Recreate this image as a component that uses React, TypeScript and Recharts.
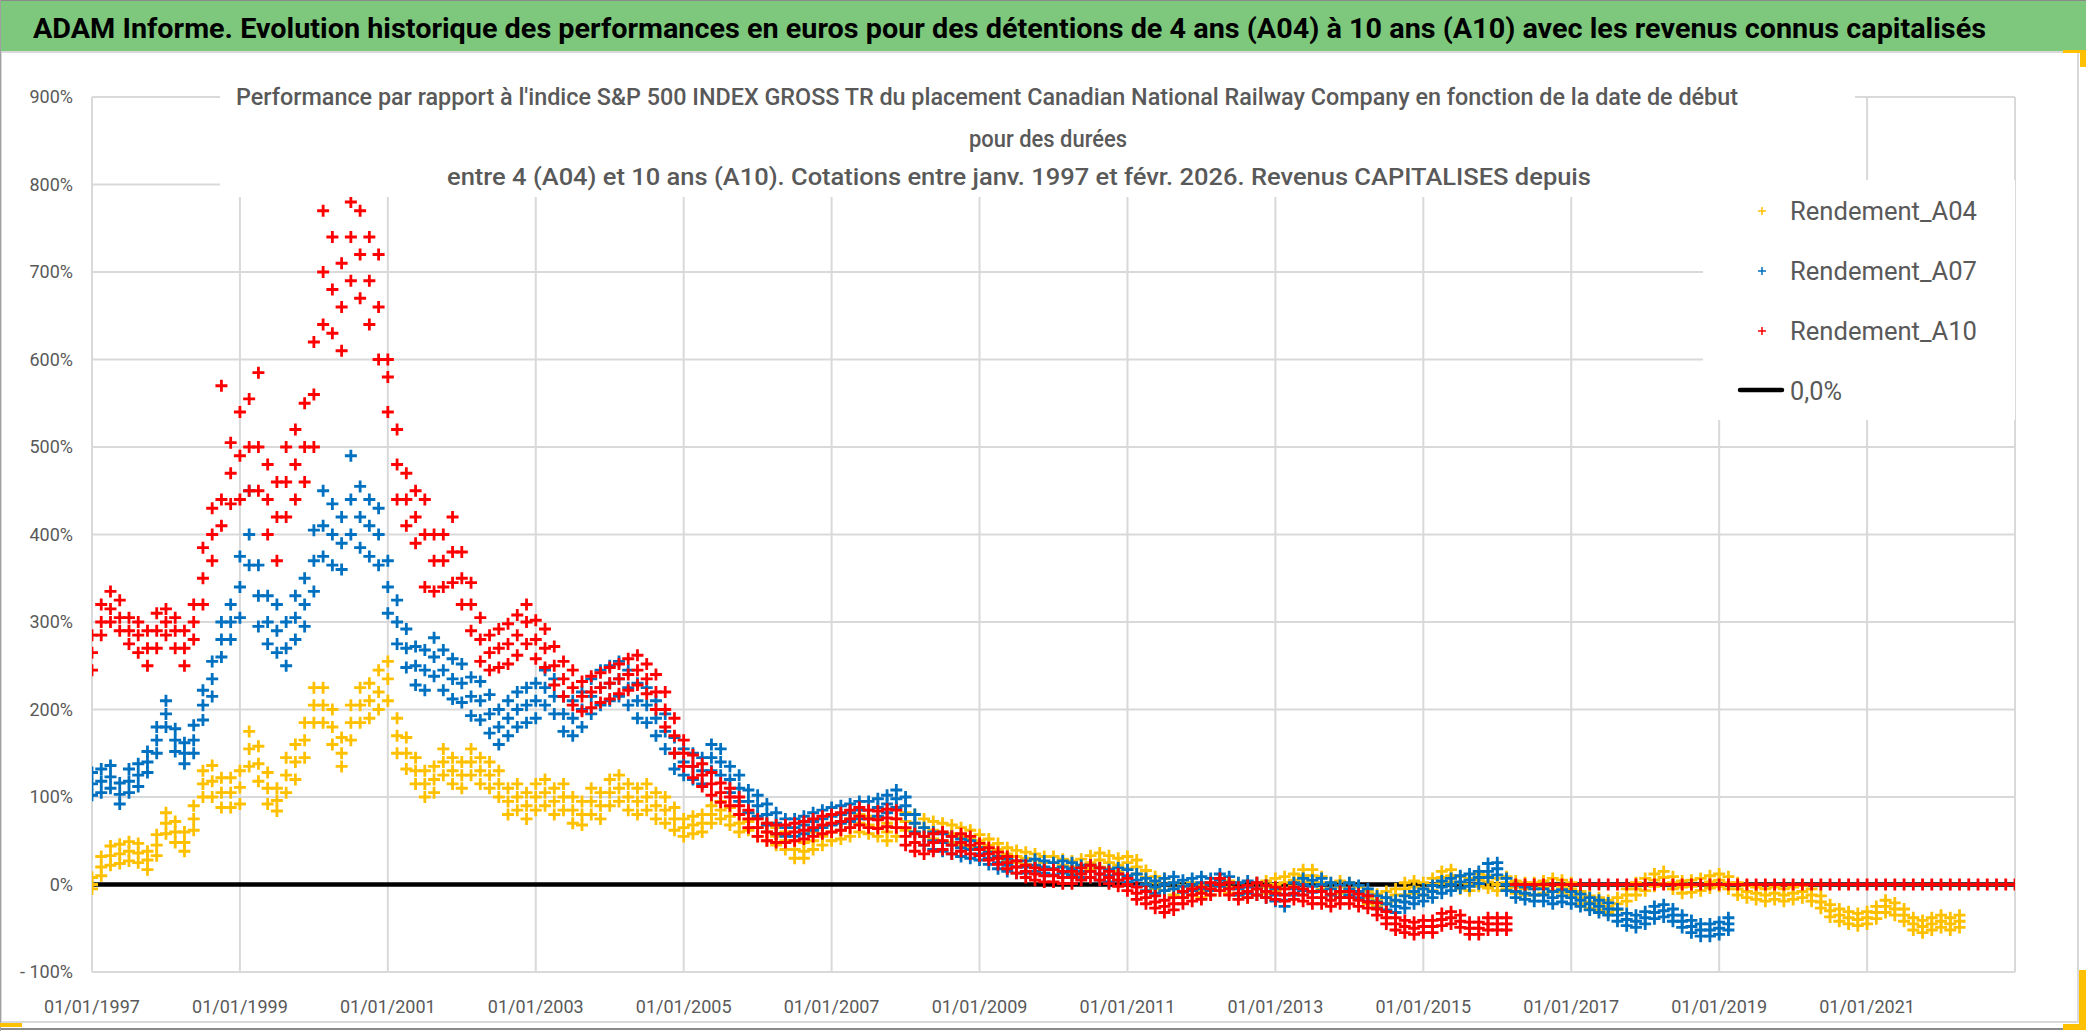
import React from "react";
import { ScatterChart, Scatter, XAxis, YAxis, CartesianGrid } from "recharts";

// sampling of the clouds: one reading every 1.5 month starting 01/01/1997
const START = 1997;
const STEP = 0.125;

// Rendement_A04 (yellow), centre of the cloud, 1997.0 -> 2022.25, one row per year
const a04Values = [
  0, 20, 33, 35, 38, 36, 28, 45,
  70, 60, 48, 75, 115, 118, 105, 105,
  111, 155, 138, 110, 96, 125, 140, 165,
  205, 205, 180, 150, 185, 205, 210, 220,
  235, 170, 150, 130, 115, 120, 140, 130,
  125, 140, 130, 125, 115, 95, 100, 90,
  100, 105, 95, 100, 85, 80, 95, 90,
  105, 110, 100, 95, 100, 90, 85, 75,
  65, 68, 70, 80, 85, 78, 70, 72,
  65, 60, 55, 50, 40, 38, 50, 55,
  60, 62, 65, 70, 68, 65, 60, 65,
  72, 70, 65, 62, 60, 58, 55, 52,
  50, 45, 40, 35, 32, 30, 28, 25,
  25, 22, 20, 22, 25, 28, 25, 22,
  25, 20, 8, 2, 0, -5, -8, -5,
  -8, -5, 0, -3, -5, -8, -5, -3,
  0, 2, 5, 10, 10, 2, -5, -3,
  -5, -10, -15, -18, -15, -12, -5, -3,
  -5, 0, 8, 10, 2, 0, 5, 3,
  0, 2, -3, -5, -5, -3, 0, -2,
  -5, -15, -20, -22, -25, -22, -12, -5,
  0, 5, 8, 2, -3, -2, 0, 3,
  5, 2, -5, -8, -10, -12, -10, -12,
  -10, -8, -12, -20, -30, -35, -38, -40,
  -38, -32, -25, -28, -35, -45, -48, -45,
  -42, -45, -42,
];
// bottom / top of the yellow cloud, same dates
const a04Low = [
  -5, 10, 22, 24, 27, 25, 17, 33,
  58, 48, 38, 62, 100, 100, 88, 88,
  92, 135, 118, 92, 84, 105, 120, 145,
  185, 185, 160, 135, 165, 185, 190, 200,
  210, 150, 132, 115, 100, 105, 125, 115,
  110, 125, 115, 110, 100, 80, 85, 75,
  85, 90, 80, 85, 70, 68, 80, 75,
  90, 95, 85, 80, 85, 75, 70, 62,
  55, 58, 60, 70, 75, 68, 60, 62,
  55, 50, 45, 40, 30, 30, 40, 45,
  50, 52, 55, 60, 58, 55, 50, 55,
  62, 60, 55, 52, 50, 48, 45, 42,
  43, 38, 33, 28, 25, 23, 21, 18,
  18, 15, 13, 15, 18, 20, 18, 15,
  18, 12, 0, -5, -7, -12, -15, -12,
  -15, -12, -7, -10, -12, -15, -12, -10,
  -7, -5, -2, 3, 3, -5, -12, -10,
  -12, -17, -22, -25, -22, -19, -12, -10,
  -12, -7, 1, 3, -5, -7, -2, -4,
  -7, -5, -10, -12, -12, -10, -7, -9,
  -12, -22, -27, -29, -32, -29, -19, -12,
  -7, -2, 1, -5, -10, -9, -7, -4,
  -2, -5, -12, -15, -17, -19, -17, -19,
  -17, -15, -19, -27, -37, -42, -45, -47,
  -45, -39, -32, -35, -42, -52, -55, -52,
  -49, -52, -49,
];
const a04High = [
  8, 32, 44, 46, 49, 47, 38, 57,
  82, 72, 60, 90, 130, 136, 122, 122,
  130, 175, 158, 128, 110, 145, 160, 185,
  225, 225, 200, 168, 205, 225, 230, 245,
  255, 190, 168, 145, 130, 135, 155, 145,
  140, 155, 145, 140, 130, 110, 115, 105,
  115, 120, 110, 115, 100, 95, 110, 105,
  120, 125, 115, 110, 115, 105, 100, 88,
  75, 78, 80, 90, 95, 88, 80, 82,
  75, 70, 65, 60, 50, 48, 60, 65,
  70, 72, 75, 80, 78, 75, 70, 75,
  82, 80, 75, 72, 70, 68, 65, 62,
  57, 52, 47, 42, 39, 37, 35, 32,
  32, 29, 27, 29, 33, 36, 33, 30,
  32, 28, 16, 9, 7, 2, -1, 2,
  -1, 2, 7, 4, 2, -1, 2, 4,
  7, 9, 12, 17, 17, 9, 2, 4,
  2, -3, -8, -11, -8, -5, 2, 4,
  2, 7, 15, 17, 9, 7, 12, 10,
  7, 9, 4, 2, 2, 4, 7, 5,
  2, -8, -13, -15, -18, -15, -5, 2,
  7, 12, 15, 9, 4, 5, 7, 10,
  12, 9, 2, -1, -3, -5, -3, -5,
  -3, -1, -5, -13, -23, -28, -31, -33,
  -31, -25, -18, -21, -28, -38, -41, -38,
  -35, -38, -35,
];

// Rendement_A07 (blue), centre of the cloud, 1997.0 -> 2019.125
const a07Values = [
  115, 118, 123, 103, 118, 125, 140, 165,
  195, 165, 150, 165, 205, 235, 280, 300,
  340, 400, 330, 300, 290, 270, 305, 320,
  370, 410, 400, 390, 440, 420, 410, 400,
  340, 300, 270, 250, 245, 260, 245, 235,
  230, 215, 210, 195, 180, 190, 200, 205,
  210, 225, 215, 195, 190, 200, 215, 225,
  230, 235, 225, 210, 205, 190, 175, 150,
  140, 135, 130, 145, 140, 120, 110, 95,
  90, 80, 70, 65, 65, 68, 72, 75,
  78, 80, 82, 85, 85, 88, 92, 98,
  90, 70, 55, 50, 48, 45, 42, 40,
  35, 30, 25, 22, 20, 20, 22, 20,
  18, 20, 18, 15, 15, 12, 10, 12,
  10, 5, 0, -3, 0, 2, -2, 0,
  2, 0, 5, 2, -5, -3, -5, -8,
  -12, -18, -5, 0, -2, 0, -5, -8,
  -5, -8, -12, -20, -22, -25, -20, -15,
  -12, -8, -3, 0, 3, 5, 8, 15,
  18, 0, -8, -10, -12, -12, -15, -13,
  -15, -18, -22, -25, -28, -35, -40, -42,
  -38, -32, -30, -35, -42, -48, -52, -52,
  -50, -45,
];
const a07Low = [
  102, 105, 110, 92, 105, 112, 128, 150,
  180, 152, 138, 150, 188, 215, 260, 280,
  305, 365, 295, 275, 265, 250, 280, 295,
  335, 375, 365, 360, 400, 385, 375, 365,
  310, 275, 248, 228, 222, 238, 222, 212,
  208, 193, 188, 173, 160, 170, 180, 185,
  190, 205, 195, 175, 170, 180, 195, 205,
  210, 215, 205, 190, 185, 170, 155, 132,
  125, 120, 115, 130, 125, 105, 95, 82,
  78, 68, 58, 55, 55, 58, 62, 65,
  68, 70, 72, 75, 75, 78, 82, 88,
  80, 60, 45, 40, 38, 35, 32, 30,
  28, 23, 18, 15, 13, 13, 15, 13,
  11, 13, 11, 8, 8, 5, 3, 5,
  3, -2, -7, -10, -7, -5, -9, -7,
  -5, -7, -2, -5, -12, -10, -12, -15,
  -19, -25, -12, -7, -9, -7, -12, -15,
  -12, -15, -19, -27, -29, -32, -27, -22,
  -19, -15, -10, -7, -4, -2, 1, 8,
  11, -7, -15, -17, -19, -19, -22, -20,
  -22, -25, -29, -32, -35, -42, -47, -49,
  -45, -39, -37, -42, -49, -55, -59, -59,
  -57, -52,
];
const a07High = [
  128, 132, 136, 116, 132, 138, 152, 180,
  210, 178, 162, 182, 222, 255, 300, 320,
  375, 450, 365, 330, 320, 300, 330, 350,
  405, 450, 435, 420, 490, 455, 440, 430,
  370, 325, 292, 272, 268, 282, 268, 258,
  252, 237, 232, 217, 200, 210, 220, 225,
  230, 245, 235, 215, 210, 220, 235, 245,
  250, 255, 245, 230, 225, 210, 195, 168,
  155, 150, 145, 160, 155, 135, 125, 108,
  102, 92, 82, 75, 75, 78, 82, 85,
  88, 90, 92, 95, 95, 98, 102, 108,
  100, 80, 65, 60, 58, 55, 52, 50,
  42, 37, 32, 29, 27, 27, 29, 27,
  25, 27, 25, 22, 22, 19, 17, 19,
  17, 12, 7, 4, 7, 9, 5, 7,
  9, 7, 12, 9, 2, 4, 2, -1,
  -5, -11, 2, 7, 5, 7, 2, -1,
  2, -1, -5, -13, -15, -18, -13, -8,
  -5, -1, 4, 7, 10, 12, 15, 24,
  25, 7, -1, -3, -5, -5, -8, -6,
  -8, -11, -15, -18, -21, -28, -33, -35,
  -31, -25, -23, -28, -35, -41, -45, -45,
  -43, -38,
];

// Rendement_A10 (red), centre of the cloud, 1997.0 -> 2023.0 (0 once 10 years are not reached)
const a10Values = [
  265, 300, 315, 305, 290, 285, 270, 290,
  300, 290, 270, 300, 350, 400, 440, 470,
  490, 500, 500, 440, 420, 460, 480, 500,
  560, 700, 680, 660, 740, 720, 690, 660,
  580, 480, 440, 420, 400, 370, 370, 380,
  350, 320, 280, 265, 270, 275, 285, 300,
  280, 270, 250, 235, 225, 215, 220, 225,
  230, 235, 240, 245, 235, 220, 200, 170,
  150, 135, 125, 115, 105, 100, 90, 75,
  65, 60, 58, 58, 60, 62, 65, 68,
  70, 72, 75, 78, 75, 74, 76, 75,
  55, 48, 45, 48, 50, 45, 48, 45,
  40, 35, 30, 25, 20, 15, 12, 10,
  10, 8, 8, 12, 15, 12, 8, 5,
  0, -10, -15, -20, -25, -22, -15, -12,
  -10, -5, 0, -5, -10, -8, -5, -8,
  -10, -12, -10, -12, -15, -15, -18, -15,
  -15, -18, -20, -28, -38, -45, -48, -50,
  -48, -48, -40, -38, -42, -50, -50, -45,
  -45, -45, 0, 0, 0, 0, 0, 0,
  0, 0, 0, 0, 0, 0, 0, 0,
  0, 0, 0, 0, 0, 0, 0, 0,
  0, 0, 0, 0, 0, 0, 0, 0,
  0, 0, 0, 0, 0, 0, 0, 0,
  0, 0, 0, 0, 0, 0, 0, 0,
  0, 0, 0, 0, 0, 0, 0, 0,
  0,
];
// bottom / top of the red cloud, 1997.0 -> 2016.125
const a10Low = [
  245, 285, 300, 290, 275, 265, 250, 270,
  285, 270, 250, 280, 320, 370, 410, 435,
  440, 450, 450, 400, 370, 420, 440, 460,
  500, 640, 630, 610, 690, 670, 640, 600,
  540, 440, 410, 390, 340, 335, 340, 345,
  320, 290, 255, 245, 248, 252, 262, 275,
  258, 248, 228, 215, 205, 198, 202, 208,
  212, 218, 222, 228, 218, 200, 180, 150,
  135, 122, 112, 102, 94, 90, 80, 65,
  55, 50, 48, 48, 50, 52, 55, 58,
  60, 62, 65, 68, 65, 64, 66, 65,
  45, 38, 35, 38, 40, 35, 38, 35,
  33, 28, 23, 18, 13, 8, 5, 3,
  3, 1, 1, 5, 8, 5, 1, -2,
  -7, -17, -22, -27, -32, -29, -22, -19,
  -17, -12, -7, -12, -17, -15, -12, -15,
  -17, -19, -17, -19, -22, -22, -25, -22,
  -22, -25, -27, -35, -45, -52, -55, -57,
  -55, -55, -47, -45, -49, -57, -57, -52,
  -52, -52,
];
const a10High = [
  285, 320, 335, 325, 305, 300, 290, 310,
  315, 305, 290, 320, 385, 430, 570, 505,
  540, 555, 585, 480, 460, 500, 520, 550,
  620, 770, 740, 710, 780, 770, 740, 720,
  600, 520, 470, 450, 440, 400, 400, 420,
  380, 345, 305, 285, 292, 298, 308, 320,
  302, 292, 272, 255, 245, 232, 238, 242,
  248, 252, 258, 262, 252, 240, 220, 190,
  165, 148, 138, 128, 116, 110, 100, 85,
  75, 70, 68, 68, 70, 72, 75, 78,
  80, 82, 85, 88, 85, 84, 86, 85,
  65, 58, 55, 58, 60, 55, 58, 55,
  47, 42, 37, 32, 27, 22, 19, 17,
  17, 15, 15, 19, 22, 19, 15, 12,
  7, -3, -8, -13, -18, -15, -8, -5,
  -3, 2, 7, 2, -3, -1, 2, -1,
  -3, -5, -3, -5, -8, -8, -11, -8,
  -8, -11, -13, -21, -31, -38, -41, -43,
  -41, -41, -33, -31, -35, -43, -43, -38,
  -38, -38,
];

// 0,0% reference line
const zeroLineX = [1997, 2023];
const zeroLineY = [0, 0];

const xTicks = [1997, 1999, 2001, 2003, 2005, 2007, 2009, 2011, 2013, 2015, 2017, 2019, 2021];
const yTicks = [-100, 0, 100, 200, 300, 400, 500, 600, 700, 800, 900];

const header =
  "ADAM Informe. Evolution historique des performances en euros pour des détentions de 4 ans (A04) à 10 ans (A10) avec les revenus connus capitalisés";
const titleLines = [
  "Performance par rapport à l'indice S&P 500 INDEX GROSS TR  du placement Canadian National Railway Company en fonction de la date de début",
  "pour des durées",
  "entre 4 (A04) et 10 ans (A10). Cotations entre janv. 1997 et févr. 2026. Revenus CAPITALISES depuis",
];
const legendNames = ["Rendement_A04", "Rendement_A07", "Rendement_A10", "0,0%"];

const YELLOW = "#FFC000";
const BLUE = "#0070C0";
const RED = "#FF0000";
const GRID = "#d9d9d9";
const TEXT = "#595959";
const FONT = "Roboto, 'Open Sans', sans-serif";

const toPoints = (vals: number[]) => vals.map((y, i) => ({ x: START + i * STEP, y }));
const a04Data = [...toPoints(a04Values), ...toPoints(a04Low), ...toPoints(a04High)];
const a07Data = [...toPoints(a07Values), ...toPoints(a07Low), ...toPoints(a07High)];
const a10Data = [...toPoints(a10Values), ...toPoints(a10Low), ...toPoints(a10High)];
const zeroData = zeroLineX.map((x, i) => ({ x, y: zeroLineY[i] }));

const plus = (color: string) => (p: any) => {
  const r = 6;
  return (
    <path
      d={`M${p.cx - r},${p.cy}H${p.cx + r}M${p.cx},${p.cy - r}V${p.cy + r}`}
      stroke={color}
      strokeWidth={2.8}
      fill="none"
    />
  );
};

const fmtY = (v: number) => (v < 0 ? `- ${Math.abs(v)}%` : `${v}%`);
const fmtX = (v: number) => `01/01/${v}`;

export default function App() {
  const legendColors = [YELLOW, BLUE, RED];
  return (
    <div style={{ position: "absolute", left: 0, top: 0, width: 2086, height: 1031, background: "#fff" }}>
      {/* frame + header band */}
      <svg width={2086} height={1031} style={{ position: "absolute", left: 0, top: 0 }}>
        <rect x={0} y={0} width={2086} height={1031} fill="#fff" />
        <rect x={0} y={0} width={2086} height={51} fill="#7DC87D" />
        <line x1={0} y1={0.5} x2={2086} y2={0.5} stroke="#8a8a8a" strokeWidth={1} />
        <rect x={1} y={52} width={2077} height={970} fill="#fff" stroke={GRID} strokeWidth={2} />
        <line x1={0} y1={1029} x2={2086} y2={1029} stroke="#8a8a8a" strokeWidth={2} />
        <line x1={0.5} y1={0} x2={0.5} y2={1031} stroke="#a0a0a0" strokeWidth={1} />
        <rect x={0} y={1023} width={22} height={4} fill={YELLOW} />
        <rect x={2063} y={50} width={23} height={3} fill={YELLOW} />
        <rect x={2080} y={50} width={6} height={17} fill={YELLOW} />
        <rect x={2079} y={970} width={7} height={60} fill={YELLOW} />
        <rect x={2063} y={1024} width={23} height={6} fill={YELLOW} />
        <text
          x={33}
          y={38}
          fontFamily={FONT}
          fontWeight="bold"
          fontSize={28}
          fill="#000"
          textLength={1953}
          lengthAdjust="spacingAndGlyphs"
        >
          {header}
        </text>
      </svg>

      <div style={{ position: "absolute", left: 0, top: 0 }}>
        <ScatterChart width={2086} height={1031} margin={{ top: 97, right: 71, bottom: 19, left: 12 }}>
          <CartesianGrid stroke={GRID} strokeWidth={2} />
          <XAxis
            type="number"
            dataKey="x"
            domain={[1997, 2023]}
            ticks={xTicks}
            interval={0}
            tickFormatter={fmtX}
            allowDataOverflow
            height={40}
            axisLine={{ stroke: GRID, strokeWidth: 2 }}
            tickLine={false}
            tickSize={8}
            tickMargin={20}
            tick={{ fill: TEXT, fontSize: 18, fontFamily: FONT }}
          />
          <YAxis
            type="number"
            dataKey="y"
            domain={[-100, 900]}
            ticks={yTicks}
            interval={0}
            tickFormatter={fmtY}
            allowDataOverflow
            width={80}
            axisLine={{ stroke: GRID, strokeWidth: 2 }}
            tickLine={false}
            tickSize={8}
            tickMargin={11}
            tick={{ fill: TEXT, fontSize: 18, fontFamily: FONT }}
          />
          <Scatter
            name="0,0%"
            data={zeroData}
            line={{ stroke: "#000", strokeWidth: 4.5 }}
            shape={() => <g />}
            isAnimationActive={false}
          />
          <Scatter name="Rendement_A04" data={a04Data} shape={plus(YELLOW)} isAnimationActive={false} />
          <Scatter name="Rendement_A07" data={a07Data} shape={plus(BLUE)} isAnimationActive={false} />
          <Scatter name="Rendement_A10" data={a10Data} shape={plus(RED)} isAnimationActive={false} />
        </ScatterChart>
      </div>

      {/* chart title + legend boxes */}
      <svg width={2086} height={1031} style={{ position: "absolute", left: 0, top: 0, pointerEvents: "none" }}>
        <rect x={220} y={78} width={1635} height={119} fill="#fff" />
        <text x={236} y={105} fontFamily={FONT} fontWeight={500} fontSize={23} fill={TEXT} textLength={1502} lengthAdjust="spacingAndGlyphs">
          {titleLines[0]}
        </text>
        <text x={969} y={147} fontFamily={FONT} fontWeight={500} fontSize={23} fill={TEXT} textLength={158} lengthAdjust="spacingAndGlyphs">
          {titleLines[1]}
        </text>
        <text x={447} y={185} fontFamily={FONT} fontWeight={500} fontSize={23} fill={TEXT} textLength={1144} lengthAdjust="spacingAndGlyphs">
          {titleLines[2]}
        </text>

        <rect x={1703} y={180} width={312} height={240} fill="#fff" />
        {legendColors.map((c, i) => (
          <g key={i}>
            <path
              d={`M${1758},${211 + i * 60}H${1766}M${1762},${207 + i * 60}V${215 + i * 60}`}
              stroke={c}
              strokeWidth={1.5}
            />
            <text
              x={1790}
              y={220 + i * 60}
              fontFamily={FONT}
              fontSize={25}
              fill={TEXT}
              textLength={187}
              lengthAdjust="spacingAndGlyphs"
            >
              {legendNames[i]}
            </text>
          </g>
        ))}
        <line x1={1740} y1={390} x2={1782} y2={390} stroke="#000" strokeWidth={4.5} strokeLinecap="round" />
        <text x={1790} y={400} fontFamily={FONT} fontSize={25} fill={TEXT} textLength={52} lengthAdjust="spacingAndGlyphs">
          {legendNames[3]}
        </text>
      </svg>
    </div>
  );
}
